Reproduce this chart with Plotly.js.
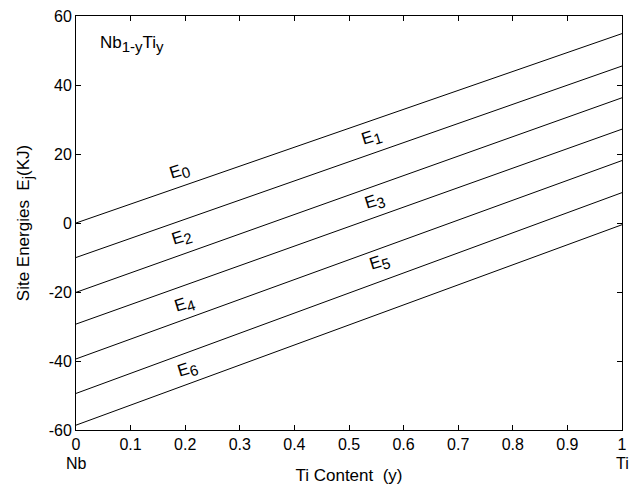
<!DOCTYPE html>
<html><head><meta charset="utf-8">
<script src="https://cdn.plot.ly/plotly-3.0.1.min.js"></script>
<style>html,body{margin:0;padding:0;background:#fff}#chart{width:633px;height:486px}</style>
</head><body><div id="chart"></div>
<script>
const xValues = [0, 1];
const seriesNames = ["E0","E1","E2","E3","E4","E5","E6"];
const E0 = [0, 54.9];
const E1 = [-10.0, 45.5];
const E2 = [-20.1, 36.3];
const E3 = [-29.3, 27.2];
const E4 = [-39.4, 18.1];
const E5 = [-49.4, 8.8];
const E6 = [-58.6, -0.5];
const subIdx = ["0","1","2","3","4","5","6"];
const labelX = [0.19, 0.542, 0.194, 0.548, 0.20, 0.557, 0.205];
const labelY = [14.8, 24.6, -4.3, 6.1, -23.8, -11.6, -42.6];
const xTicks = [0,0.1,0.2,0.3,0.4,0.5,0.6,0.7,0.8,0.9,1];
const yTicks = [-60,-40,-20,0,20,40,60];

const sub = t => '<sub><span style="font-size:15px">' + t + '</span></sub>';
const series = [E0,E1,E2,E3,E4,E5,E6];
const traces = series.map((s,i)=>({
  x: xValues, y: s, name: seriesNames[i], mode: 'lines', type: 'scatter',
  line: {color: '#000', width: 1}, hoverinfo: 'skip'
}));
const fam = 'Liberation Sans, Arial, sans-serif';
const font = {family: fam, size: 16, color: '#000'};
const annotations = subIdx.map((t,i)=>({
  x: labelX[i], y: labelY[i], xref: 'x', yref: 'y', text: 'E' + sub(t), showarrow: false,
  textangle: -17, font: {family: fam, size: 17, color: '#000'}
}));
annotations.push({x: 0.04, y: 52, xref: 'x', yref: 'y', xanchor: 'left', text: 'Nb' + sub('1-y') + 'Ti' + sub('y'), showarrow: false, font: {family: fam, size: 17, color: '#000'}});
annotations.push({x: 0, y: -0.08, xref: 'x', yref: 'paper', yanchor: 'middle', text: 'Nb', showarrow: false, font: font});
annotations.push({x: 1, y: -0.08, xref: 'x', yref: 'paper', yanchor: 'middle', text: 'Ti', showarrow: false, font: font});

const axisCommon = {
  showgrid: false, zeroline: false, showline: true, linecolor: '#000', linewidth: 1,
  mirror: 'ticks', ticks: 'inside', ticklen: 5, tickcolor: '#000', tickfont: font
};
const layout = {
  width: 633, height: 486,
  margin: {l: 76, r: 11, t: 16, b: 56},
  paper_bgcolor: '#fff', plot_bgcolor: '#fff',
  showlegend: false, font: font,
  xaxis: Object.assign({}, axisCommon, {range: [0,1], tickvals: xTicks, ticktext: xTicks.map(String),
    title: {text: 'Ti Content  (y)', font: {family: fam, size: 17, color: '#000'}, standoff: 16}}),
  yaxis: Object.assign({}, axisCommon, {range: [-60,60], tickvals: yTicks, ticktext: yTicks.map(String),
    title: {text: 'Site Energies  E' + sub('j') + '(KJ)', font: {family: fam, size: 17, color: '#000'}, standoff: 14}}),
  annotations: annotations
};
Plotly.newPlot('chart', traces, layout, {staticPlot: true, displayModeBar: false});
</script></body></html>
